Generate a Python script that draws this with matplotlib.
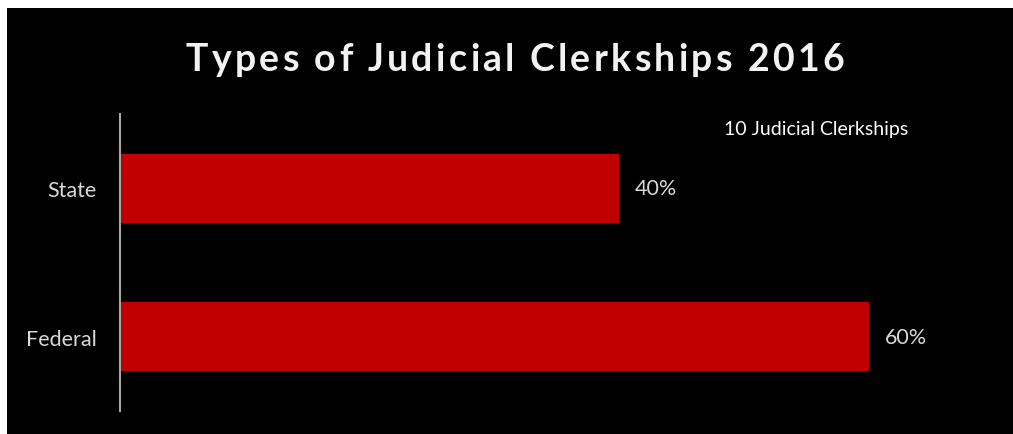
import matplotlib.pyplot as plt
from matplotlib.patches import Rectangle

categories = ["Federal", "State"]
shares = [0.60, 0.40]
value_labels = ["60%", "40%"]
title = "Types of Judicial Clerkships 2016"
legend_text = "10 Judicial Clerkships"

plt.rcParams['font.family'] = ['Lato', 'DejaVu Sans']

fig = plt.figure(figsize=(10.13, 4.35), dpi=100)
fig.patch.set_facecolor("white")
fig.patches.append(Rectangle((7 / 1013, 0), 1, 1 - 9 / 435, transform=fig.transFigure,
                             facecolor="black", edgecolor="none", zorder=-5))

ax = fig.add_axes([120 / 1013, 1 - 412 / 435, 874 / 1013, 297 / 435])
ax.patch.set_alpha(0)

ypos = range(len(categories))
ax.barh(ypos, shares, height=0.463, color="#C00000")
for y, v, lab in zip(ypos, shares, value_labels):
    ax.text(v + 0.0125, y, lab, va="center", ha="left", color="#D9D9D9", fontsize=15.5)

ax.set_xlim(0, 0.7)
ax.set_ylim(-0.5, 1.5)
ax.set_yticks(list(ypos))
ax.set_yticklabels(categories, color="#D9D9D9", fontsize=15.5)
ax.tick_params(axis="y", length=0, pad=17)
ax.set_xticks([])
for side in ["top", "right", "bottom"]:
    ax.spines[side].set_visible(False)
ax.spines["left"].set_color("#A6A6A6")
ax.spines["left"].set_linewidth(1.5)

fig.text(816 / 1013, 1 - 130 / 435, legend_text, ha="center", va="center",
         color="white", fontsize=14)

# title with letter spacing, placed char by char
renderer = fig.canvas.get_renderer()
spacing = 3.3
widths = []
for ch in title:
    t = fig.text(0, 0, ch if ch != " " else "a", fontsize=27, fontweight="bold")
    w = t.get_window_extent(renderer).width
    t.remove()
    widths.append(w * (0.45 if ch == " " else 1.0))
total = sum(widths) + spacing * (len(title) - 1)
x = 515 - total / 2
for ch, w in zip(title, widths):
    if ch != " ":
        fig.text(x / 1013, 1 - 60 / 435, ch, ha="left", va="center",
                 color="#F2F2F2", fontsize=27, fontweight="bold")
    x += w + spacing

fig.savefig("out.png", dpi=100, facecolor=fig.get_facecolor())
